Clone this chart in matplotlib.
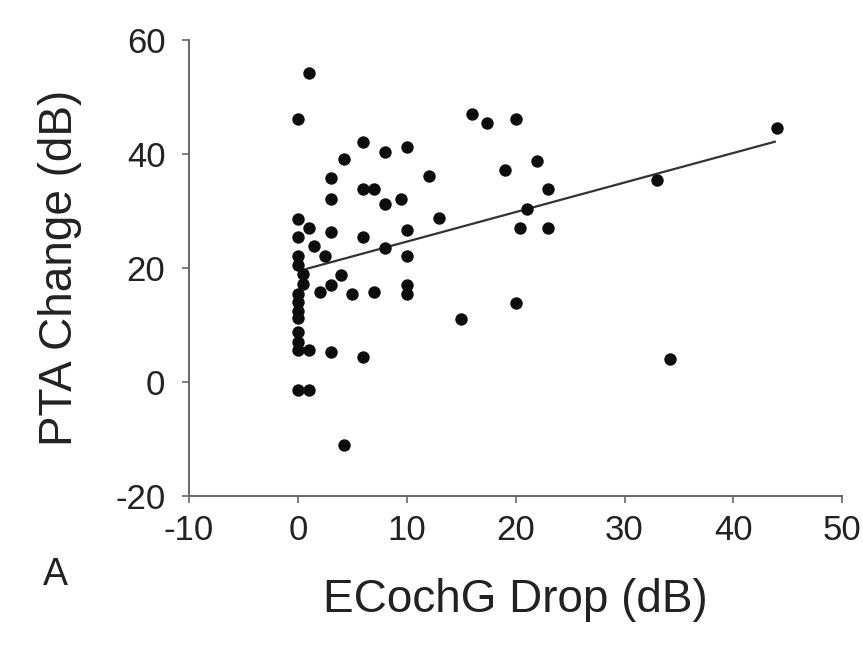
import matplotlib
matplotlib.use("Agg")
import matplotlib.pyplot as plt

# Datos (ECochG drop vs cambio PTA)
ecochg_drop = [1, 0, 6, 4.2, 3, 6, 7, 3, 0, 1, 3, 6, 0, 1.5, 0, 2.5, 0, 0.5, 0.5,
               4, 3, 2, 5, 7, 0, 0, 0, 0, 0, 0, 0, 1, 3, 6, 0, 1, 4.2,
               8, 10, 16, 17.4, 20, 22, 19, 12, 23, 8, 9.5, 13, 21, 20.4, 23,
               10, 8, 10, 10, 10, 20, 15, 44, 33, 34.2]
pta_change = [54.2, 46.1, 42.2, 39.2, 35.8, 33.9, 33.9, 32.1, 28.7, 27.1, 26.4, 25.5,
              25.4, 23.8, 22.2, 22.1, 20.6, 19.0, 17.2, 18.8, 17.1, 15.8, 15.4, 15.8,
              15.5, 14.0, 12.5, 11.2, 8.8, 7.1, 5.6, 5.7, 5.3, 4.4, -1.4, -1.4, -11.0,
              40.4, 41.3, 47.1, 45.4, 46.1, 38.8, 37.2, 36.1, 33.9, 31.2, 32.2, 28.8,
              30.3, 27.1, 27.1, 26.7, 23.5, 22.1, 17.1, 15.4, 13.8, 11.0, 44.6, 35.4, 4.0]

# Recta de regresion
fit_intercept = 19.46
fit_slope = 0.519
fit_x = [0.8, 43.8]

x_ticks = [-10, 0, 10, 20, 30, 40, 50]
y_ticks = [-20, 0, 20, 40, 60]


def main():
    plt.rcParams['font.family'] = ['Liberation Sans', 'DejaVu Sans']
    plt.rcParams['axes.unicode_minus'] = False  # guion simple como en el original

    fig = plt.figure(figsize=(8.63, 6.5), dpi=100)
    ax = fig.add_axes([0.219, 0.237, 0.757, 0.701])

    ax.scatter(ecochg_drop, pta_change, s=80, color='#0d0d0d', zorder=3, linewidths=0)

    fit_y = [fit_intercept + fit_slope * v for v in fit_x]
    ax.plot(fit_x, fit_y, color='#333333', lw=1.6, zorder=2)

    ax.set_xlim(-10, 50)
    ax.set_ylim(-20, 60)
    ax.set_xticks(x_ticks)
    ax.set_yticks(y_ticks)

    for side in ['top', 'right']:
        ax.spines[side].set_visible(False)
    for side in ['left', 'bottom']:
        ax.spines[side].set_color('#666666')
        ax.spines[side].set_linewidth(1.4)

    ax.tick_params(direction='out', length=5, width=1.2, color='#666666',
                   labelsize=25, labelcolor='#222222')
    ax.tick_params(axis='y', pad=12)
    ax.tick_params(axis='x', pad=8)

    ax.set_xlabel('ECochG Drop (dB)', fontsize=33, color='#222222', labelpad=22)
    ax.set_ylabel('PTA Change (dB)', fontsize=33, color='#222222', labelpad=24)

    fig.text(0.064, 0.115, 'A', fontsize=27, color='#222222', ha='center', va='center')

    fig.savefig('out.png', dpi=100)


if __name__ == '__main__':
    main()
